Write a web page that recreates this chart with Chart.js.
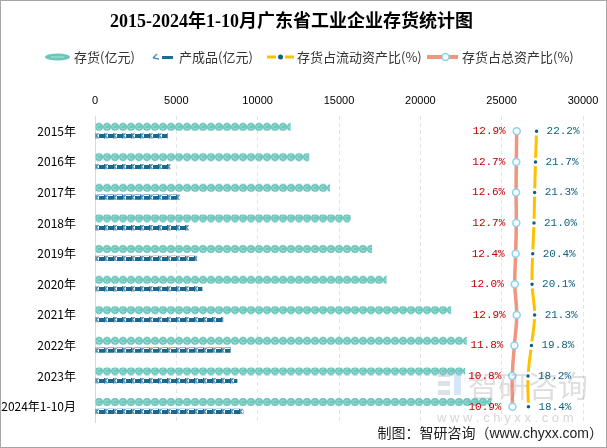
<!doctype html>
<html lang="zh">
<head>
<meta charset="utf-8">
<title>广东省工业企业存货统计图</title>
<script src="https://cdn.jsdelivr.net/npm/chart.js@4.4.1/dist/chart.umd.min.js"></script>
<style>
  body { margin: 0; background: #fff; }
</style>
</head>
<body>
<canvas id="myChart" width="607" height="448"></canvas>

<script>
// data
var years = ['2015年', '2016年', '2017年', '2018年', '2019年', '2020年', '2021年', '2022年', '2023年', '2024年1-10月'];
var cunhuo = [12030, 13170, 14450, 15720, 17030, 17930, 21890, 22850, 22750, 24380];      // 存货(亿元)
var chanchengpin = [4470, 4650, 5230, 5780, 6290, 6600, 7890, 8340, 8750, 9120];          // 产成品(亿元)
var liudongBi = [22.2, 21.7, 21.3, 21.0, 20.4, 20.1, 21.3, 19.8, 18.2, 18.4];             // 存货占流动资产比(%)
var zongBi = [12.9, 12.7, 12.6, 12.7, 12.4, 12.0, 12.9, 11.8, 10.8, 10.9];                // 存货占总资产比(%)
var xTicks = [0, 5000, 10000, 15000, 20000, 25000, 30000];

var CAT_PCT = 0.608;
var BAR_PCT = [0.86, 0.57];

// little tiles for the picture-fill bars
function tealTile() {
  var c = document.createElement('canvas'); c.width = 8; c.height = 8;
  var g = c.getContext('2d');
  g.fillStyle = '#6cc6bc';
  g.beginPath(); g.arc(4, 4, 4, 0, Math.PI * 2); g.fill();
  g.strokeStyle = '#a8dfd8'; g.lineWidth = 1;
  g.beginPath(); g.arc(4, 4, 2, 0.3, Math.PI * 1.8); g.stroke();
  return c;
}
function blueTile() {
  var c = document.createElement('canvas'); c.width = 9; c.height = 5;
  var g = c.getContext('2d');
  g.fillStyle = '#1a6890';
  g.fillRect(0, 0, 1.5, 5);
  g.fillRect(4, 1, 5, 4);
  g.strokeStyle = '#3f88ad'; g.lineWidth = 1.2;
  g.beginPath(); g.moveTo(1, 3); g.lineTo(3.5, 0); g.moveTo(1.5, 3); g.lineTo(3.5, 5); g.stroke();
  return c;
}
var tiles = [tealTile(), blueTile()];
var patCache = {};

function barFill(dsIndex, fallback) {
  return function (c) {
    var ch = c.chart;
    if (c.type !== 'data' || !ch.chartArea || !ch.scales.y) return fallback;
    var y = ch.scales.y, x = ch.scales.x;
    var step = Math.abs(y.getPixelForValue(1) - y.getPixelForValue(0));
    var chunk = step * CAT_PCT / 2;
    var size = chunk * BAR_PCT[dsIndex];
    var center = y.getPixelForValue(c.dataIndex) - chunk + chunk * dsIndex + chunk / 2;
    var top = Math.round(center - size / 2);
    var key = dsIndex + '_' + top;
    if (!patCache[key]) {
      var p = ch.ctx.createPattern(tiles[dsIndex], 'repeat');
      p.setTransform(new DOMMatrix([1, 0, 0, 1, Math.round(x.getPixelForValue(0)), top]));
      patCache[key] = p;
    }
    return patCache[key];
  };
}

var extras = {
  id: 'extras',
  afterDatasetsDraw: function (chart) {
    var ctx = chart.ctx;
    ctx.save();
    // watermark
    ctx.fillStyle = 'rgba(165,178,200,0.4)';
    ctx.fillRect(438, 372, 12, 5);
    ctx.fillRect(438, 381, 12, 5);
    ctx.fillRect(438, 390, 12, 5);
    ctx.fillStyle = 'rgba(150,195,230,0.4)';
    ctx.fillRect(454, 372, 7, 23);
    ctx.fillStyle = 'rgba(150,150,150,0.3)';
    ctx.font = '30px "Noto Sans CJK SC"';
    ctx.textBaseline = 'middle';
    ctx.textAlign = 'left';
    ctx.fillText('智研咨询', 468, 386);
    ctx.font = '13px "Liberation Sans"';
    ctx.fillStyle = 'rgba(150,150,150,0.4)';
    ctx.fillText('w w w . c h y x x . c o m', 437, 418);

    // value labels
    ctx.font = '11px "Liberation Mono"';
    var mz = chart.getDatasetMeta(3);
    ctx.fillStyle = '#c00000';
    ctx.textAlign = 'right';
    mz.data.forEach(function (pt, i) {
      ctx.fillText(zongBi[i].toFixed(1) + '%', pt.x - 11, pt.y);
    });
    var ml = chart.getDatasetMeta(2);
    ctx.fillStyle = '#14607f';
    ctx.textAlign = 'left';
    ml.data.forEach(function (pt, i) {
      ctx.fillText(liudongBi[i].toFixed(1) + '%', pt.x + 10, pt.y);
    });
    ctx.restore();
  },
  afterDraw: function (chart) {
    var ctx = chart.ctx;
    ctx.save();
    // legend
    var ly = 57;
    ctx.textBaseline = 'middle';
    ctx.font = '13px "Noto Sans CJK SC"';
    ctx.fillStyle = '#333';
    ctx.textAlign = 'left';

    ctx.fillStyle = '#6cc6bc';
    ctx.beginPath(); ctx.ellipse(57.5, ly, 12.5, 3.6, 0, 0, Math.PI * 2); ctx.fill();
    ctx.strokeStyle = '#b5e4de'; ctx.lineWidth = 1;
    ctx.beginPath(); ctx.moveTo(51, ly); ctx.lineTo(64, ly); ctx.stroke();
    ctx.fillStyle = '#333';
    ctx.fillText('存货(亿元)', 74, ly);

    ctx.strokeStyle = '#4d95b8'; ctx.lineWidth = 1.5;
    ctx.beginPath(); ctx.moveTo(153, ly + 1); ctx.lineTo(157, ly - 3); ctx.moveTo(153, ly + 1); ctx.lineTo(159, ly + 2); ctx.stroke();
    ctx.fillStyle = '#1d6d93';
    ctx.fillRect(162, ly - 1, 11, 3);
    ctx.fillStyle = '#333';
    ctx.fillText('产成品(亿元)', 179, ly);

    ctx.strokeStyle = '#ffc000'; ctx.lineWidth = 3;
    ctx.beginPath(); ctx.moveTo(267, ly); ctx.lineTo(276, ly); ctx.moveTo(285, ly); ctx.lineTo(294, ly); ctx.stroke();
    ctx.fillStyle = '#0f5f80';
    ctx.beginPath(); ctx.arc(280.5, ly, 2.5, 0, Math.PI * 2); ctx.fill();
    ctx.fillStyle = '#333';
    ctx.fillText('存货占流动资产比(%)', 297, ly);

    ctx.strokeStyle = '#ef9580'; ctx.lineWidth = 4;
    ctx.beginPath(); ctx.moveTo(427, ly); ctx.lineTo(458, ly); ctx.stroke();
    ctx.fillStyle = '#f6fbfd'; ctx.strokeStyle = '#8fd2ef'; ctx.lineWidth = 1.5;
    ctx.beginPath(); ctx.arc(445.5, ly, 3.5, 0, Math.PI * 2); ctx.fill(); ctx.stroke();
    ctx.fillStyle = '#333';
    ctx.fillText('存货占总资产比(%)', 462, ly);

    // source
    ctx.font = '14px "Liberation Sans", "Noto Sans CJK SC"';
    ctx.fillStyle = '#222';
    ctx.textAlign = 'right';
    ctx.fillText('制图：智研咨询（www.chyxx.com）', 603, 434);

    // frame
    ctx.strokeStyle = '#a6a6a6'; ctx.lineWidth = 1;
    ctx.strokeRect(0.5, 0.5, 606, 447);
    ctx.restore();
  }
};

var ctx = document.getElementById('myChart').getContext('2d');
var myChart = new Chart(ctx, {
  type: 'bar',
  data: {
    labels: years,
    datasets: [{
      label: '存货(亿元)',
      data: cunhuo,
      backgroundColor: barFill(0, '#6cc6bc'),
      categoryPercentage: CAT_PCT,
      barPercentage: BAR_PCT[0],
      order: 3
    }, {
      label: '产成品(亿元)',
      data: chanchengpin,
      backgroundColor: barFill(1, '#1d6d93'),
      categoryPercentage: CAT_PCT,
      barPercentage: BAR_PCT[1],
      order: 3
    }, {
      label: '存货占流动资产比(%)',
      type: 'line',
      indexAxis: 'y',
      xAxisID: 'x2',
      data: liudongBi,
      borderColor: '#ffc000',
      borderWidth: 3,
      tension: 0.4,
      pointRadius: 3,
      pointBorderWidth: 2.5,
      pointBackgroundColor: '#0f5f80',
      pointBorderColor: '#fff',
      order: 1
    }, {
      label: '存货占总资产比(%)',
      type: 'line',
      indexAxis: 'y',
      xAxisID: 'x2',
      data: zongBi,
      borderColor: '#ef9580',
      borderWidth: 3.5,
      tension: 0.4,
      pointRadius: 3.5,
      pointBorderWidth: 1.5,
      pointBackgroundColor: '#f6fbfd',
      pointBorderColor: '#8fd2ef',
      order: 2
    }]
  },
  options: {
    indexAxis: 'y',
    responsive: false,
    devicePixelRatio: 1,
    animation: false,
    layout: { padding: { left: 0, right: 24, top: 0, bottom: 26 } },
    plugins: {
      legend: { display: false },
      tooltip: { enabled: false },
      title: {
        display: true,
        text: '2015-2024年1-10月广东省工业企业存货统计图',
        color: '#000',
        font: { size: 18, weight: 'bold', family: '"Liberation Serif", "Noto Sans CJK SC"' },
        padding: { top: 12, bottom: 0 }
      }
    },
    scales: {
      x: {
        position: 'top',
        min: 0,
        max: 30000,
        afterBuildTicks: function (s) { s.ticks = xTicks.map(function (v) { return { value: v }; }); },
        ticks: {
          color: '#000', padding: 8, font: { size: 11, family: '"Liberation Sans"' },
          callback: function (v) { return String(v); }
        },
        grid: { color: '#e4e4e4', drawTicks: false },
        border: { display: false, dash: [4, 3] },
        afterFit: function (s) { s.height = 82.4; }
      },
      x2: { type: 'linear', axis: 'x', display: false, min: -185, max: 44 },
      y: {
        ticks: { color: '#000', padding: 11, font: { size: 12, family: '"Noto Sans CJK SC"' } },
        grid: { display: false },
        border: { display: true, color: '#d9d9d9' },
        afterFit: function (s) { s.width = 95; }
      }
    }
  },
  plugins: [extras]
});
</script>
</body>
</html>
